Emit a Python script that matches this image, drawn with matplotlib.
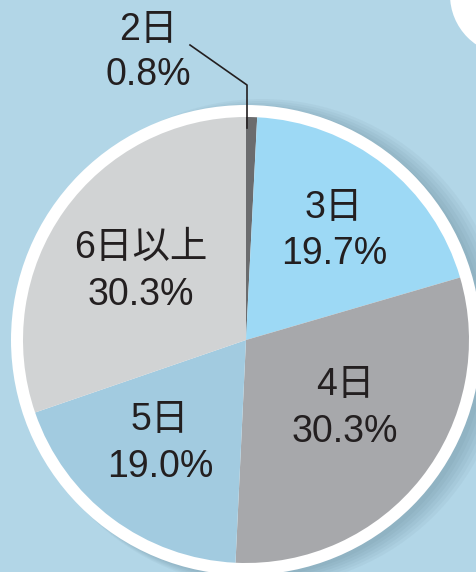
import matplotlib.pyplot as plt
from matplotlib.patches import Circle

plt.rcParams['font.family'] = ['Liberation Sans', 'Noto Sans CJK JP']

labels = ['2日', '3日', '4日', '5日', '6日以上']
shares = [0.8, 19.7, 30.3, 19.0, 30.3]
colors = ['#6b6c6e', '#9dd9f5', '#a7a8ab', '#a2cbe0', '#d1d3d4']

W, H = 477, 572
fig = plt.figure(figsize=(W / 100, H / 100), dpi=100)
fig.patch.set_facecolor('#b2d6e7')
ax = fig.add_axes([0, 0, 1, 1])

cx, cy = 246, H - 340

# soft shadow, mostly to the right
for i in range(6):
    ax.add_patch(Circle((cx + 6 + 2 * i, cy - 3), 234 + 2 * i, color='#2a4a5a', alpha=0.045, lw=0, zorder=1))
ax.add_patch(Circle((cx, cy), 235, color='white', lw=0, zorder=2))

# white shape in top-right corner
ax.add_patch(Circle((510, H + 5), 60, color='white', lw=0, zorder=2))

wedges, _ = ax.pie(shares, colors=colors, startangle=90, counterclock=False,
                   center=(cx, cy), radius=223, frame=True,
                   wedgeprops=dict(linewidth=0))
for w in wedges:
    w.set_zorder(3)
ax.set_xlim(0, W)
ax.set_ylim(0, H)
ax.set_aspect('equal')
ax.axis('off')

pos = [(148, 30, 75), (334, 208, 254), (345, 385, 432), (160, 420, 467), (141, 248, 295)]
for lab, s, (x, y1, y2) in zip(labels, shares, pos):
    ax.text(x, H - y1, lab, ha='center', va='center', fontsize=27, color='#231f20', zorder=5)
    ax.text(x, H - y2, f'{s:.1f}%', ha='center', va='center', fontsize=27, color='#231f20', zorder=5)

ax.plot([190, 247, 247], [H - 45, H - 85, H - 128], color='#231f20', lw=1.2, zorder=6)

fig.savefig('out.png', dpi=100, facecolor=fig.get_facecolor())
